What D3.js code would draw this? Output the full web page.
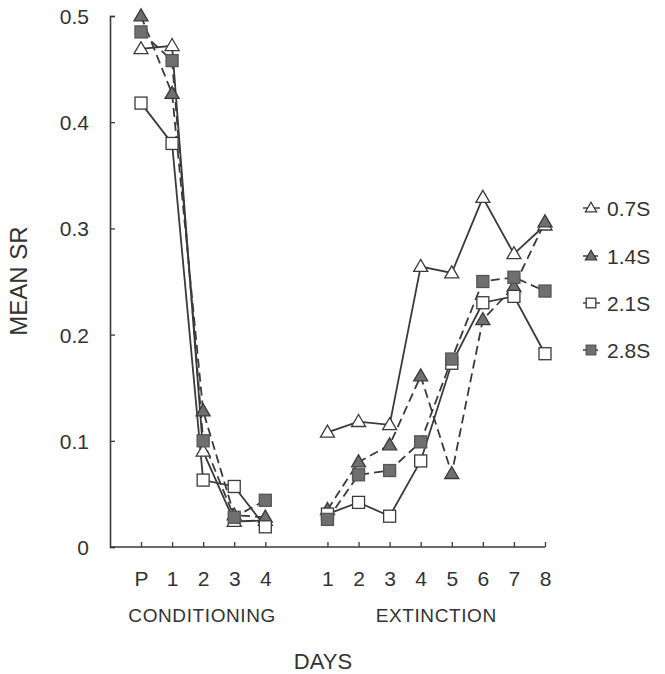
<!DOCTYPE html>
<html><head><meta charset="utf-8">
<script src="https://cdn.jsdelivr.net/npm/d3@7"></script>
<style>
body{margin:0;background:#fff;}
svg text{font-family:"Liberation Sans",Arial,Helvetica,sans-serif;fill:#333;}
</style></head>
<body><svg id="c" width="665" height="674"></svg>
<script>
// Day slots: 0-4 conditioning (P,1,2,3,4), 6-13 extinction (1..8)
const condSlots = [0,1,2,3,4];
const extSlots = [6,7,8,9,10,11,12,13];
const condLabels = ["P","1","2","3","4"];
const extLabels = ["1","2","3","4","5","6","7","8"];
const yTicks = [0,0.1,0.2,0.3,0.4,0.5];
const yTickLabels = ["0","0.1","0.2","0.3","0.4","0.5"];
const seriesNames = ["0.7S","1.4S","2.1S","2.8S"];

const cond07 = [0.469,0.472,0.090,0.024,0.025];
const ext07  = [0.108,0.118,0.115,0.264,0.258,0.329,0.276,0.303];
const cond14 = [0.500,0.427,0.128,0.030,0.028];
const ext14  = [0.035,0.080,0.096,0.161,0.069,0.214,0.245,0.306];
const cond21 = [0.418,0.380,0.063,0.057,0.019];
const ext21  = [0.031,0.042,0.029,0.081,0.173,0.230,0.236,0.182];
const cond28 = [0.485,0.458,0.100,0.028,0.044];
const ext28  = [0.026,0.068,0.072,0.099,0.177,0.250,0.254,0.241];

const series = [
  {name:seriesNames[0], cond:cond07, ext:ext07, shape:"tri", filled:false, dashed:false},
  {name:seriesNames[1], cond:cond14, ext:ext14, shape:"tri", filled:true, dashed:true},
  {name:seriesNames[2], cond:cond21, ext:ext21, shape:"sq", filled:false, dashed:false},
  {name:seriesNames[3], cond:cond28, ext:ext28, shape:"sq", filled:true, dashed:true}
];

const svg = d3.select("#c");
const x = d3.scaleLinear().domain([0,13]).range([141,545]);
const y = d3.scaleLinear().domain([0,0.5]).range([547,16]);
const axisX0 = 110;
const ink = "#3a3a3a";
const FONT = "Liberation Sans, Arial, sans-serif";

// Y axis
const yAxis = d3.axisLeft(y).tickValues(yTicks).tickFormat((d,i)=>yTickLabels[i])
  .tickSize(-5).tickPadding(21);
const gy = svg.append("g").attr("transform",`translate(${axisX0},0)`).call(yAxis);
gy.select(".domain").attr("stroke",ink).attr("stroke-width",1.6);
gy.selectAll(".tick line").attr("stroke",ink).attr("stroke-width",1.3);
gy.selectAll(".tick text").attr("font-size",21).attr("fill","#333").attr("dy","0.36em")
  .attr("font-family",FONT);

// X axis
const allSlots = condSlots.concat(extSlots);
const allLabels = condLabels.concat(extLabels);
const xAxis = d3.axisBottom(x).tickValues(allSlots).tickFormat((d,i)=>allLabels[i])
  .tickSize(-5).tickSizeOuter(0).tickPadding(39);
const gx = svg.append("g").attr("transform",`translate(0,${y(0)})`).call(xAxis);
gx.select(".domain").remove();
gx.append("line").attr("x1",axisX0).attr("x2",x(13)).attr("y1",0).attr("y2",0)
  .attr("stroke",ink).attr("stroke-width",1.6);
gx.selectAll(".tick line").attr("stroke",ink).attr("stroke-width",1.3);
gx.selectAll(".tick text").attr("font-size",21).attr("fill","#333").attr("dy","0")
  .attr("font-family",FONT);

// Lines
const line = d3.line().x(d=>x(d[0])).y(d=>y(d[1]));
function pts(slots, vals){ return slots.map((s,i)=>[s,vals[i]]); }

series.forEach(s=>{
  [pts(condSlots,s.cond), pts(extSlots,s.ext)].forEach(p=>{
    svg.append("path").attr("d",line(p)).attr("fill","none").attr("stroke",ink)
      .attr("stroke-width",1.8).attr("stroke-dasharray", s.dashed ? "9,5" : null);
  });
});

function marker(g, s, cx, cy, scale){
  scale = scale||1;
  const fill = s.filled ? "#6f6f6f" : "#fff";
  if(s.shape==="tri"){
    const h = 12*scale, w = 14*scale;
    g.append("path").attr("d",`M${cx},${cy-h*0.6}L${cx+w/2},${cy+h*0.4}L${cx-w/2},${cy+h*0.4}Z`)
      .attr("fill",fill).attr("stroke",ink).attr("stroke-width",1.3);
  } else {
    const a = 12*scale;
    g.append("rect").attr("x",cx-a/2).attr("y",cy-a/2).attr("width",a).attr("height",a)
      .attr("fill",fill).attr("stroke",s.filled?"#555":ink).attr("stroke-width",1.3);
  }
}

series.forEach(s=>{
  const g = svg.append("g");
  pts(condSlots,s.cond).concat(pts(extSlots,s.ext)).forEach(p=>marker(g,s,x(p[0]),y(p[1])));
});

// Axis titles
svg.append("text").attr("transform","translate(27,281) rotate(-90)").attr("text-anchor","middle")
  .attr("font-size",24).text("MEAN SR");
svg.append("text").attr("x",(x(0)+x(4))/2 - 1).attr("y",622).attr("text-anchor","middle")
  .attr("font-size",19).attr("letter-spacing","0.6px").text("CONDITIONING");
svg.append("text").attr("x",(x(6)+x(13))/2).attr("y",622).attr("text-anchor","middle")
  .attr("font-size",19).attr("letter-spacing","0.6px").text("EXTINCTION");
svg.append("text").attr("x",323).attr("y",669).attr("text-anchor","middle")
  .attr("font-size",22).text("DAYS");

// Legend
const legY = [208,256,303,350];
series.forEach((s,i)=>{
  const g = svg.append("g");
  const cy = legY[i];
  g.append("line").attr("x1",583).attr("x2",600).attr("y1",cy).attr("y2",cy)
    .attr("stroke",ink).attr("stroke-width",1.4).attr("stroke-dasharray", s.dashed ? "6,3" : null);
  marker(g,s,591,cy,0.8);
  g.append("text").attr("x",607).attr("y",cy).attr("dy","0.36em").attr("font-size",21)
    .text(s.name);
});
</script></body></html>
